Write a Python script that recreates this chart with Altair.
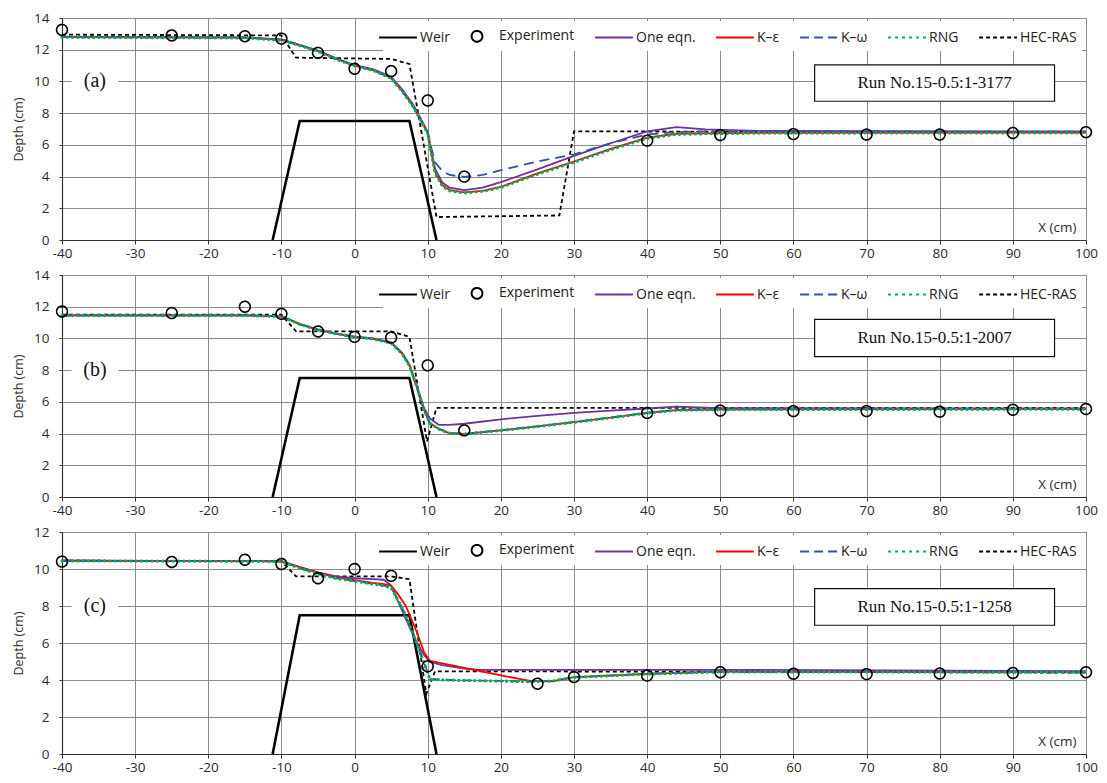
import altair as alt
import pandas as pd

# ---------------- data ----------------
SERIES = ["Weir", "Experiment", "One eqn.", "K\u2013\u03b5", "K\u2013\u03c9", "RNG", "HEC-RAS"]

WEIR_X = [-11.2, -7.5, 7.5, 11.2]
WEIR_Y = [0.0, 7.5, 7.5, 0.0]

# Panel (a)
EXP_X_A = [-40, -25, -15, -10, -5, 0, 5, 10, 15, 40, 50, 60, 70, 80, 90, 100]
EXP_Y_A = [13.25, 12.9, 12.85, 12.7, 11.8, 10.8, 10.65, 8.8, 4.0, 6.27, 6.62, 6.68, 6.65, 6.65, 6.75, 6.8]
CFD_X_A = [-40, -15, -10, -7.5, -5, -2.5, 0, 2.5, 5, 6.5, 8, 9, 10, 10.5, 11, 12, 13, 15, 17.5, 20, 25, 30, 35, 40, 44, 48, 55, 100]
ONE_A = [12.82, 12.78, 12.65, 12.3, 11.95, 11.45, 11.02, 10.78, 10.3, 9.5, 8.55, 7.7, 6.8, 5.6, 4.5, 3.62, 3.3, 3.15, 3.3, 3.65, 4.45, 5.3, 6.1, 6.85, 7.12, 6.98, 6.88, 6.85]
KE_A = [12.8, 12.76, 12.62, 12.28, 11.92, 11.42, 11.0, 10.72, 10.22, 9.4, 8.45, 7.6, 6.75, 5.5, 4.3, 3.45, 3.15, 3.0, 3.1, 3.35, 4.2, 4.95, 5.75, 6.45, 6.7, 6.73, 6.76, 6.78]
KW_A = [12.8, 12.76, 12.62, 12.28, 11.92, 11.42, 11.0, 10.72, 10.22, 9.4, 8.45, 7.6, 6.8, 5.8, 4.9, 4.35, 4.1, 3.98, 4.1, 4.4, 4.95, 5.4, 6.1, 6.65, 6.82, 6.85, 6.85, 6.83]
RNG_A = [12.78, 12.74, 12.6, 12.26, 11.9, 11.4, 10.98, 10.7, 10.2, 9.38, 8.42, 7.58, 6.72, 5.45, 4.25, 3.4, 3.1, 2.97, 3.07, 3.32, 4.15, 4.9, 5.7, 6.4, 6.66, 6.7, 6.74, 6.76]
HEC_X_A = [-40, -10, -8, 0, 5, 7.5, 11.2, 20, 28, 30, 100]
HEC_Y_A = [12.95, 12.9, 11.5, 11.45, 11.42, 11.1, 1.45, 1.5, 1.55, 6.85, 6.8]

# Panel (b)
EXP_X_B = [-40, -25, -15, -10, -5, 0, 5, 10, 15, 40, 50, 60, 70, 80, 90, 100]
EXP_Y_B = [11.7, 11.6, 12.0, 11.55, 10.44, 10.1, 10.05, 8.3, 4.2, 5.3, 5.45, 5.42, 5.42, 5.38, 5.5, 5.55]
CFD_X_B = [-40, -15, -10, -7.5, -5, -2.5, 0, 2.5, 5, 6.5, 7.5, 8.5, 9.5, 10.3, 11.5, 13, 15, 20, 25, 30, 35, 40, 44, 50, 100]
ONE_B = [11.45, 11.45, 11.4, 10.9, 10.55, 10.3, 10.12, 10.0, 9.75, 9.1, 8.35, 7.0, 5.6, 4.95, 4.55, 4.55, 4.62, 4.9, 5.12, 5.3, 5.45, 5.58, 5.7, 5.6, 5.58]
KE_B = [11.45, 11.45, 11.4, 10.9, 10.55, 10.3, 10.1, 9.98, 9.72, 9.05, 8.3, 6.95, 5.5, 4.65, 4.3, 4.02, 3.98, 4.2, 4.45, 4.72, 5.0, 5.3, 5.48, 5.52, 5.55]
KW_B = [11.45, 11.45, 11.4, 10.9, 10.55, 10.3, 10.1, 9.98, 9.72, 9.05, 8.3, 6.95, 5.5, 4.66, 4.31, 4.03, 3.99, 4.21, 4.46, 4.73, 5.01, 5.31, 5.49, 5.53, 5.56]
RNG_B = [11.44, 11.44, 11.39, 10.89, 10.54, 10.29, 10.09, 9.97, 9.71, 9.04, 8.29, 6.94, 5.49, 4.64, 4.29, 4.01, 3.97, 4.19, 4.44, 4.71, 4.99, 5.29, 5.47, 5.51, 5.54]
HEC_X_B = [-40, -10, -8, 5, 7.5, 9.9, 11.2, 100]
HEC_Y_B = [11.5, 11.5, 10.45, 10.45, 10.1, 3.5, 5.62, 5.62]

# Panel (c)
EXP_X_C = [-40, -25, -15, -10, -5, 0, 5, 10, 25, 30, 40, 50, 60, 70, 80, 90, 100]
EXP_Y_C = [10.4, 10.38, 10.5, 10.27, 9.5, 10.0, 9.63, 4.74, 3.8, 4.16, 4.24, 4.42, 4.34, 4.32, 4.35, 4.38, 4.42]
CFD_X_C = [-40, -10, -7.5, -5, -2.5, 0, 2.5, 4, 5, 6, 7, 8.5, 9.5, 10.3, 12, 15, 17, 20, 24, 27, 30, 40, 50, 100]
ONE_C = [10.45, 10.42, 10.1, 9.82, 9.6, 9.5, 9.45, 9.42, 9.1, 8.2, 7.3, 6.0, 5.35, 4.98, 4.8, 4.62, 4.55, 4.55, 4.55, 4.55, 4.55, 4.55, 4.55, 4.48]
KE_C = [10.45, 10.42, 10.1, 9.8, 9.55, 9.4, 9.25, 9.18, 9.1, 8.6, 8.0, 6.6, 5.5, 5.04, 4.9, 4.65, 4.5, 4.25, 3.95, 3.93, 4.15, 4.33, 4.45, 4.43]
KW_C = [10.45, 10.42, 10.05, 9.75, 9.5, 9.35, 9.2, 9.1, 9.0, 8.3, 7.5, 6.0, 4.95, 4.05, 4.02, 3.98, 3.97, 3.95, 3.92, 3.95, 4.15, 4.33, 4.45, 4.43]
RNG_C = [10.44, 10.41, 10.04, 9.74, 9.49, 9.34, 9.19, 9.09, 8.98, 8.28, 7.48, 5.98, 4.93, 4.03, 4.01, 3.97, 3.96, 3.94, 3.91, 3.94, 4.14, 4.32, 4.44, 4.42]
HEC_X_C = [-40, -10, -8, 5, 7.5, 9.8, 11, 50, 100]
HEC_Y_C = [10.45, 10.42, 9.6, 9.6, 9.45, 3.25, 4.47, 4.45, 4.4]

RUN_LABELS = ["Run No.15-0.5:1-3177", "Run No.15-0.5:1-2007", "Run No.15-0.5:1-1258"]
PANEL_TAGS = ["(a)", "(b)", "(c)"]
Y_MAX = [14, 14, 12]

# ---------------- annotation placement (data units) ----------------
BOX_X = [62.9, 95.7]
BOX_Y = [[8.75, 11.05], [8.85, 11.2], [6.96, 8.94]]
TAG_X = -35.5
TAG_HALF_W = 3.2
TAG_Y = [10, 8, 8]
TAG_HALF_H = [0.5, 0.5, 0.45]

# ---------------- styles ----------------
COLORS = ["#000000", "#000000", "#7030A0", "#FF0000", "#2E55A5", "#00B050", "#000000"]
LINE_PATH = "M-2.1,0L2.1,0"
CIRCLE_PATH = "M0.6,0A0.6,0.6,0,1,1,-0.6,0A0.6,0.6,0,1,1,0.6,0Z"
SHAPES = [LINE_PATH, CIRCLE_PATH, LINE_PATH, LINE_PATH, LINE_PATH, LINE_PATH, LINE_PATH]
DASHES = [[1, 0], [1, 0], [1, 0], [1, 0], [9, 5], [3, 4], [4, 3]]

W, H = 1024, 222
FONT = "Open Sans"
SERIF = "Liberation Serif"


def make_panel(k, exp_x, exp_y, cfd_x, one, ke, kw, rng, hec_x, hec_y):
    ymax = Y_MAX[k]
    rows = []

    def add(name, xs, ys):
        for i, (a, b) in enumerate(zip(xs, ys)):
            rows.append({"series": name, "x": a, "y": b, "i": i})

    add("Weir", WEIR_X, WEIR_Y)
    add("HEC-RAS", hec_x, hec_y)
    add(SERIES[2], cfd_x, one)
    add(SERIES[3], cfd_x, ke)
    add(SERIES[4], cfd_x, kw)
    add(SERIES[5], cfd_x, rng)
    df = pd.DataFrame(rows)
    exp_df = pd.DataFrame({"x": exp_x, "y": exp_y, "series": ["Experiment"] * len(exp_x)})

    xaxis = alt.Axis(values=list(range(-40, 101, 10)), title="X (cm)", labelExpr="datum.value + ''",
                     tickSize=4, labelPadding=2, labelFontSize=13.5, labelFlush=False, labelOverlap=False,
                     titleX=W - 10, titleY=-6, titleAlign="right", titleBaseline="bottom",
                     titleFontSize=13.5, grid=True)
    yaxis = alt.Axis(values=list(range(0, ymax + 1, 2)), title="Depth (cm)", tickSize=3, labelPadding=10,
                     labelFontSize=13.5, labelFlush=False, labelOverlap=False, titleFontSize=12.5,
                     titlePadding=9, minExtent=28, maxExtent=28, grid=True)
    xs = alt.Scale(domain=[-40, 100], nice=False, zero=False)
    ys = alt.Scale(domain=[0, ymax], nice=False, zero=False)
    xenc = alt.X("x:Q", scale=xs, axis=xaxis)
    yenc = alt.Y("y:Q", scale=ys, axis=yaxis)

    def line(name, **style):
        return (alt.Chart(df).transform_filter(alt.datum.series == name)
                .mark_line(**style).encode(x=xenc, y=yenc, order="i:Q"))

    weir = line("Weir", color="#000000", strokeWidth=2.6)
    hec = line("HEC-RAS", color="#000000", strokeWidth=1.8, strokeDash=[4, 3])
    l_one = line(SERIES[2], color="#7030A0", strokeWidth=1.8)
    l_ke = line(SERIES[3], color="#FF0000", strokeWidth=1.8)
    l_kw = line(SERIES[4], color="#2E55A5", strokeWidth=1.8, strokeDash=[10, 6])
    l_rng = line(SERIES[5], color="#00B050", strokeWidth=3.2, strokeDash=[0.1, 5.2], strokeCap="round")

    legend = alt.Legend(title=None, orient="none", legendX=321, legendY=3, direction="horizontal",
                        fillColor="white", padding=5, symbolSize=324, symbolStrokeWidth=2,
                        symbolFillColor="transparent", labelFontSize=14, labelFont=FONT,
                        labelColor="#222222", labelOffset=12, columnPadding=16, labelLimit=200)
    pts = alt.Chart(exp_df).mark_point(filled=False, size=324, strokeWidth=1.6, opacity=1).encode(
        x=xenc, y=yenc,
        color=alt.Color("series:N", scale=alt.Scale(domain=SERIES, range=COLORS), legend=legend),
        shape=alt.Shape("series:N", scale=alt.Scale(domain=SERIES, range=SHAPES), legend=legend),
        strokeDash=alt.StrokeDash("series:N", scale=alt.Scale(domain=SERIES, range=DASHES), legend=legend),
    )

    by = BOX_Y[k]
    box_df = pd.DataFrame({"x": [BOX_X[0]], "x2": [BOX_X[1]], "y": [by[0]], "y2": [by[1]]})
    box = alt.Chart(box_df).mark_rect(fill="white", stroke="#111111", strokeWidth=1.2).encode(
        x=xenc, x2="x2:Q", y=yenc, y2="y2:Q")
    box_txt_df = pd.DataFrame({"x": [(BOX_X[0] + BOX_X[1]) / 2], "y": [(by[0] + by[1]) / 2],
                               "label": [RUN_LABELS[k]]})
    box_txt = alt.Chart(box_txt_df).mark_text(font=SERIF, fontSize=17, color="#111111",
                                               baseline="middle", align="center").encode(
        x=xenc, y=yenc, text="label:N")

    tag_bg_df = pd.DataFrame({"x": [TAG_X - TAG_HALF_W], "x2": [TAG_X + TAG_HALF_W],
                              "y": [TAG_Y[k] - TAG_HALF_H[k]], "y2": [TAG_Y[k] + TAG_HALF_H[k]]})
    tag_bg = alt.Chart(tag_bg_df).mark_rect(fill="white").encode(x=xenc, x2="x2:Q", y=yenc, y2="y2:Q")
    tag_df = pd.DataFrame({"x": [TAG_X], "y": [TAG_Y[k]], "label": [PANEL_TAGS[k]]})
    tag = alt.Chart(tag_df).mark_text(font=SERIF, fontSize=20, color="#111111",
                                      baseline="middle", align="center").encode(
        x=xenc, y=yenc, text="label:N")

    return alt.layer(tag_bg, tag, box, box_txt, weir, hec, l_one, l_ke, l_kw, l_rng, pts).properties(
        width=W, height=H)


pa = make_panel(0, EXP_X_A, EXP_Y_A, CFD_X_A, ONE_A, KE_A, KW_A, RNG_A, HEC_X_A, HEC_Y_A)
pb = make_panel(1, EXP_X_B, EXP_Y_B, CFD_X_B, ONE_B, KE_B, KW_B, RNG_B, HEC_X_B, HEC_Y_B)
pc = make_panel(2, EXP_X_C, EXP_Y_C, CFD_X_C, ONE_C, KE_C, KW_C, RNG_C, HEC_X_C, HEC_Y_C)

chart = (alt.vconcat(pa, pb, pc, spacing=7)
         .resolve_scale(color="independent", shape="independent", strokeDash="independent")
         .properties(padding={"left": 3, "top": 2, "right": 0, "bottom": 0}, background="white")
         .configure_view(stroke="#8c8c8c", strokeWidth=1)
         .configure_axis(gridColor="#8c8c8c", gridWidth=1, domainColor="#333333", domainWidth=1.2,
                         tickColor="#333333", labelColor="#2b2b2b", labelFont=FONT, titleFont=FONT,
                         titleFontWeight="normal", titleColor="#2b2b2b")
         )

chart.save("out.html", embed_options={"renderer": "svg", "actions": False})
